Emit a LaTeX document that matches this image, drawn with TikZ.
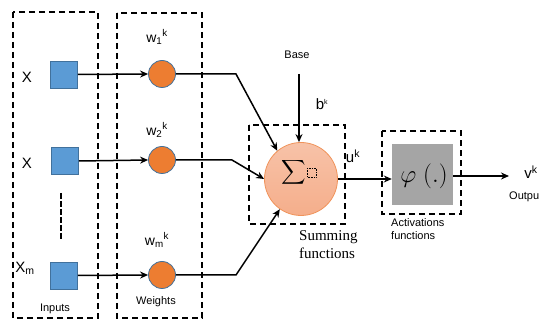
\documentclass[tikz,border=0pt]{standalone}
\usepackage{fontspec}
\setmainfont{Liberation Sans}
\newfontfamily\seriffam{Liberation Serif}
\usetikzlibrary{arrows.meta}
\definecolor{inblue}{HTML}{5B9BD5}
\definecolor{inedge}{HTML}{41719C}
\definecolor{worange}{HTML}{ED7D31}
\definecolor{sumfill}{HTML}{F5AE8B}
\definecolor{sumedge}{HTML}{F0935A}
\definecolor{actgray}{HTML}{A5A5A5}
\begin{document}
\begin{tikzpicture}[x=1pt,y=-1pt,
  group/.style={draw, line width=1.1pt, dash pattern=on 6pt off 4pt},
  inbox/.style={draw=inedge, line width=0.8pt, fill=inblue, minimum size=27pt, inner sep=0pt},
  wnode/.style={circle, draw=inedge, line width=0.8pt, fill=worange, minimum size=27pt, inner sep=0pt},
  link/.style={line width=1.5pt, -{Stealth[length=8pt,width=7pt]}},
  lbl/.style={inner sep=0pt, font=\fontsize{15}{17}\selectfont},
  small/.style={inner sep=0pt, font=\fontsize{11}{13}\selectfont},
]
\useasboundingbox (0,0) rectangle (539,320);
\clip (0,0) rectangle (539,320);

% group frames
\draw[group] (13,12) rectangle (98,318);
\draw[group] (117,13) rectangle (202,318);
\draw[group] (249,125) rectangle (345,224);
\draw[group] (382,131) rectangle (461,214);

% inputs
\node[inbox] (x1) at (64,74.5) {};
\node[inbox] (x2) at (65,161) {};
\node[inbox] (xm) at (64,275.5) {};
\node[lbl] (lx1) at (27,77) {X};
\node[lbl] (lx2) at (27,163) {X};
\node[lbl] (lxm) at (25,268) {X\textsubscript{m}};
\draw[line width=1.6pt, dash pattern=on 6pt off 2pt] (61,193) -- (61,240);
\node[small] (linputs) at (55,309) {Inputs};

% weights
\node[wnode] (w1) at (162,74) {};
\node[wnode] (w2) at (162,160) {};
\node[wnode] (wm) at (162,275) {};
\node[lbl, font=\fontsize{14}{16}\selectfont] (lw1) at (157,37) {w\textsubscript{1}\textsuperscript{k}};
\node[lbl, font=\fontsize{14}{16}\selectfont] (lw2) at (157,130) {w\textsubscript{2}\textsuperscript{k}};
\node[lbl, font=\fontsize{14}{16}\selectfont] (lwm) at (157,240) {w\textsubscript{m}\textsuperscript{k}};
\node[small] (lweights) at (156,302) {Weights};

\draw[link] (x1.east) -- (w1.west);
\draw[link] (x2.east) -- (w2.west);
\draw[link] (xm.east) -- (wm.west);

% summing junction
\node[circle, draw=sumedge, line width=0.8pt, top color=sumfill!75!white, bottom color=sumfill, minimum size=73pt, inner sep=0pt] (sum) at (301,179) {};
\node[inner sep=0pt] (sigma) at (294,172.5) {\scalebox{1.7}{$\displaystyle\sum$}};
\draw[line width=0.6pt, densely dotted] (307,168) rectangle (316,177);
\node[inner sep=0pt, align=left, anchor=north west, font=\seriffam\fontsize{15}{18}\selectfont] (lsum) at (299,230) {Summing\\functions};

\coordinate (k1) at (236,74);
\coordinate (k2) at (232,160);
\coordinate (k3) at (236,275);
\draw[link] (w1.east) -- (k1) -- (sum.130);
\draw[link] (w2.east) -- (k2) -- (sum.west);
\draw[link] (wm.east) -- (k3) -- (sum.235);

% bias
\node[small] (lbase) at (297,55) {Base};
\coordinate (btop) at (299,74);
\draw[link] (btop) -- (sum.north -| btop);
\node[lbl] (lb) at (322,104) {b\textsuperscript{\fontsize{7}{8}\selectfont k}};
\node[lbl] (lu) at (353,156) {u\textsuperscript{k}};

% activation
\node[fill=actgray, minimum width=61pt, minimum height=61pt, inner sep=0pt] (act) at (422.5,174.5) {};
\node[inner sep=0pt, font=\fontsize{24}{26}\selectfont] at (424,176) {$\varphi\;(.)$};
\node[inner sep=0pt, align=left, anchor=north west, font=\fontsize{11}{13}\selectfont] (lact) at (391,218) {Activations\\functions};
\draw[link] (sum.east) -- (act.west |- sum.east);

% output
\coordinate (out) at (509,176);
\draw[link] (act.east |- out) -- (out);
\node[lbl] (lv) at (531,172) {v\textsuperscript{k}};
\node[small, anchor=west] (lout) at (509,197) {Output};
\end{tikzpicture}
\end{document}
